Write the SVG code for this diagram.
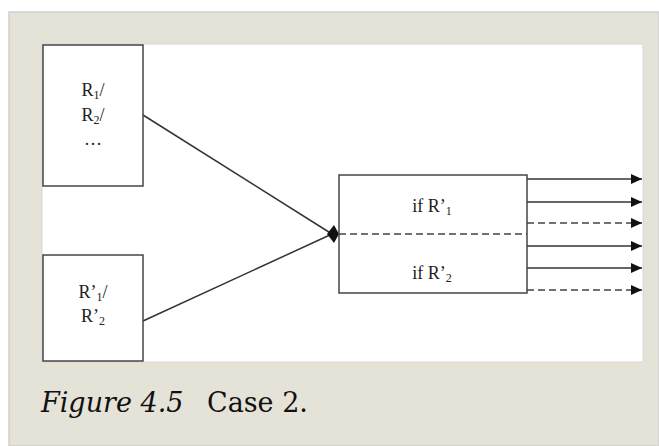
<svg xmlns="http://www.w3.org/2000/svg" width="659" height="446" viewBox="0 0 659 446">
<defs>
<style>
.box{fill:#fff;stroke:#444;stroke-width:1.5}
.ln{stroke:#333;stroke-width:1.5;fill:none}
.dash{stroke:#444;stroke-width:1.5;stroke-dasharray:7,4;fill:none}
.t{font-family:"Liberation Serif",serif;font-size:18px;fill:#222;text-anchor:middle}
.cap{font-family:"DejaVu Serif",serif;font-size:27px;fill:#111}
</style>
<marker id="ah" viewBox="0 0 10 10" refX="10" refY="5" markerWidth="11" markerHeight="10" markerUnits="userSpaceOnUse" orient="auto" preserveAspectRatio="none"><path d="M0,0 L10,5 L0,10 z" fill="#111"/></marker>
</defs>
<rect x="0" y="0" width="659" height="446" fill="#fff"/>
<rect x="9" y="12" width="650" height="434" fill="#e5e3d8" stroke="#cfcfcf" stroke-width="1.5"/>
<rect x="42" y="44" width="601" height="318" fill="#fff" stroke="#d8d8d8" stroke-width="1"/>
<g id="connectors">
<path class="ln" d="M143,115 L332,234"/>
<path class="ln" d="M143,321 L332,234"/>
<polygon points="327,234 334,225 339,234 334,243" fill="#111"/>
<path class="ln" d="M527,179 L642,179" marker-end="url(#ah)"/>
<path class="ln" d="M527,202 L642,202" marker-end="url(#ah)"/>
<path class="dash" d="M527,223 L642,223" marker-end="url(#ah)"/>
<path class="ln" d="M527,246 L642,246" marker-end="url(#ah)"/>
<path class="ln" d="M527,268 L642,268" marker-end="url(#ah)"/>
<path class="dash" d="M527,290 L642,290" marker-end="url(#ah)"/>
</g>
<g id="node-r">
<rect class="box" x="43" y="45" width="100" height="141"/>
<text class="t" x="93" y="96">R<tspan font-size="12" dy="3">1</tspan><tspan dy="-3">/</tspan></text>
<text class="t" x="93" y="121">R<tspan font-size="12" dy="3">2</tspan><tspan dy="-3">/</tspan></text>
<text class="t" x="93" y="145">…</text>
</g>
<g id="node-rp">
<rect class="box" x="43" y="255" width="100" height="106"/>
<text class="t" x="93" y="298">R’<tspan font-size="12" dy="3">1</tspan><tspan dy="-3">/</tspan></text>
<text class="t" x="93" y="322">R’<tspan font-size="12" dy="3">2</tspan></text>
</g>
<g id="node-if">
<rect class="box" x="339" y="175" width="188" height="118" fill="none"/>
<path class="dash" d="M339,234 L527,234"/>
<text class="t" x="432" y="212">if R’<tspan font-size="12" dy="3">1</tspan></text>
<text class="t" x="432" y="279">if R’<tspan font-size="12" dy="3">2</tspan></text>
</g>
<text class="cap" x="41" y="412"><tspan font-style="italic">Figure 4.5</tspan><tspan x="207">Case 2.</tspan></text>
</svg>
